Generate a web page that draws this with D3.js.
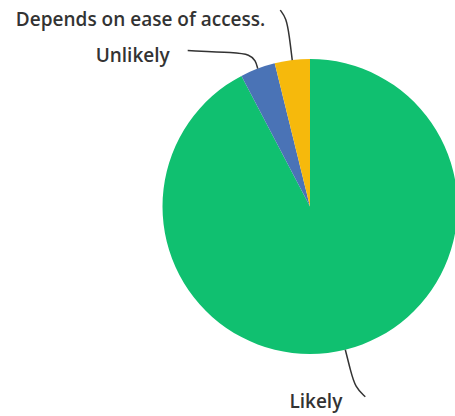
<!DOCTYPE html>
<html>
<head>
<meta charset="utf-8">
<script src="https://cdn.jsdelivr.net/npm/d3@7"></script>
<style>
  body { margin: 0; background: #fff; }
  svg { display: block; }
  text { font-family: "Open Sans", sans-serif; font-weight: 600; fill: #333; font-size: 19px; }
</style>
</head>
<body>
<script>
const labels = ["Likely", "Unlikely", "Depends on ease of access."];
const counts = [24, 1, 1];
const colors = ["#10c070", "#4a73b6", "#f6b90c"];

const width = 455, height = 416;
const cx = 310, cy = 206.5, r = 147.5;

const svg = d3.select("body").append("svg")
    .attr("width", width)
    .attr("height", height);

const pie = d3.pie().sort(null).value(d => d.v);
const arc = d3.arc().innerRadius(0).outerRadius(r);

const arcs = pie(labels.map((l, i) => ({ label: l, v: counts[i], color: colors[i] })));

const g = svg.append("g").attr("transform", "translate(" + cx + "," + cy + ")");

g.selectAll("path")
    .data(arcs)
    .enter()
    .append("path")
    .attr("d", arc)
    .attr("fill", d => d.data.color);

// leader lines: start on the rim at slice mid-angle, bend outward to label
function rim(d, extra) {
    const a = (d.startAngle + d.endAngle) / 2;
    return [Math.sin(a) * (r + extra), -Math.cos(a) * (r + extra)];
}

const leaders = [
    { d: arcs[0], pts: [[0, 0], [5, 20], [10, 38], [20, 47]], label: [-3, 58] },
    { d: arcs[1], pts: [[0, 0], [-2, -8], [-8, -14], [-22, -16], [-70, -18]], label: [-88, -7] },
    { d: arcs[2], pts: [[0, 0], [-3, -25], [-6, -42], [-12, -50]], label: [-27, -34] }
];

const line = d3.line().curve(d3.curveBasis);

leaders.forEach(L => {
    const p0 = rim(L.d, 0);
    g.append("path")
        .attr("d", line(L.pts.map(p => [p0[0] + p[0], p0[1] + p[1]])))
        .attr("fill", "none")
        .attr("stroke", "#333")
        .attr("stroke-width", 1.5);
    g.append("text")
        .attr("x", p0[0] + L.label[0])
        .attr("y", p0[1] + L.label[1])
        .attr("text-anchor", "end")
        .text(L.d.data.label);
});
</script>
</body>
</html>
